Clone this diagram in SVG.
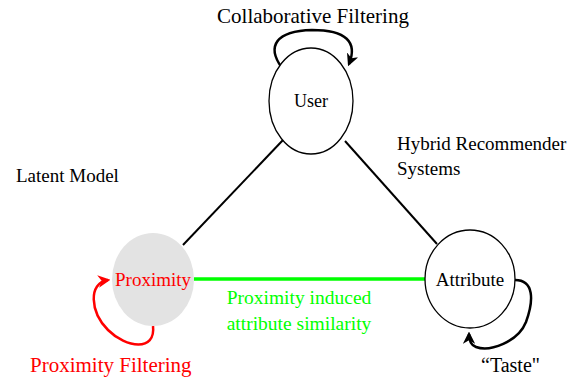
<svg xmlns="http://www.w3.org/2000/svg" width="577" height="379" viewBox="0 0 577 379">
<style>
text{font-family:"Liberation Serif","DejaVu Serif",serif;}
.node{fill:#fff;stroke:#000;stroke-width:1.3;}
.edge{fill:none;stroke:#000;stroke-width:2;}
.loop{fill:none;stroke:#000;stroke-width:2.5;}
</style>
<defs>
<marker id="ab" viewBox="0 0 10 10" refX="8" refY="5" markerWidth="5" markerHeight="5" orient="auto" markerUnits="strokeWidth">
<path d="M0,0 L10,5 L0,10 L3,5 Z" fill="#000"/>
</marker>
<marker id="ar" viewBox="0 0 10 10" refX="8" refY="5" markerWidth="5" markerHeight="5" orient="auto" markerUnits="strokeWidth">
<path d="M0,0 L10,5 L0,10 L3,5 Z" fill="#f00"/>
</marker>
</defs>
<rect width="577" height="379" fill="#fff"/>
<g id="connectors">
<line class="edge" x1="183" y1="245" x2="283" y2="140"/>
<line class="edge" x1="345" y1="141" x2="437" y2="244"/>
<line x1="194" y1="279" x2="425" y2="279" stroke="#00ff00" stroke-width="3.5"/>
<path class="loop" d="M282,68 C266,46 276,31 312,30 C346,30 358,42 349,64" marker-end="url(#ab)"/>
<path class="loop" d="M515,280 C534,280 534,300 526,322 C518,342 490,352 476,347 C470,345 469,340 469,334" marker-end="url(#ab)"/>
<path fill="none" stroke="#f00" stroke-width="2.5" d="M153,326 C156,352 126,348 108,330 C90,312 88,283 108,280" marker-end="url(#ar)"/>
</g>
<g id="user">
<ellipse class="node" cx="311" cy="101" rx="42" ry="53"/>
<text x="311" y="107" font-size="18" text-anchor="middle">User</text>
</g>
<g id="attribute">
<ellipse class="node" cx="470" cy="279" rx="45" ry="49"/>
<text x="470" y="286" font-size="19" text-anchor="middle">Attribute</text>
</g>
<g id="proximity">
<ellipse cx="153" cy="279.5" rx="41" ry="46.5" fill="#e3e3e3"/>
<text x="153" y="286" font-size="19" text-anchor="middle" fill="#f00">Proximity</text>
</g>
<g id="labels">
<text x="313" y="23" font-size="21" text-anchor="middle">Collaborative Filtering</text>
<text x="16" y="182" font-size="19">Latent Model</text>
<text x="397" y="150" font-size="19">Hybrid Recommender</text>
<text x="397" y="175" font-size="19">Systems</text>
<text x="299" y="304" font-size="19.5" text-anchor="middle" fill="#00ff00">Proximity induced</text>
<text x="299" y="330" font-size="19.5" text-anchor="middle" fill="#00ff00">attribute similarity</text>
<text x="30" y="372" font-size="21" fill="#f00">Proximity Filtering</text>
<text x="481" y="372" font-size="20">“Taste"</text>
</g>
</svg>
